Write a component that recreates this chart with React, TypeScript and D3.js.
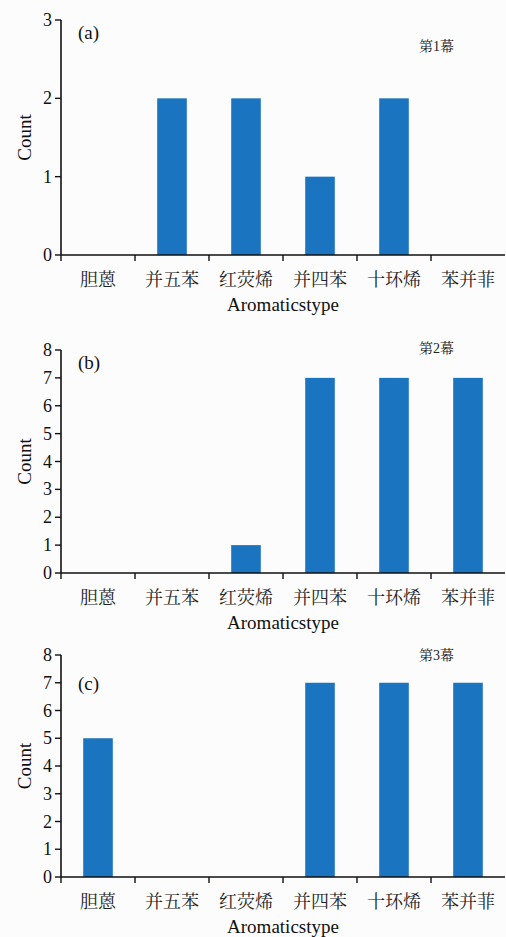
import React from 'react';
import * as d3 from 'd3';

// aromatic types on the x axis
const categories = ['胆蒽', '并五苯', '红荧烯', '并四苯', '十环烯', '苯并菲'];

// counts per scene
const scene1 = [0, 2, 2, 1, 2, 0];
const scene2 = [0, 0, 1, 7, 7, 7];
const scene3 = [5, 0, 0, 7, 7, 7];

const ticksA = [0, 1, 2, 3];
const ticksBC = [0, 1, 2, 3, 4, 5, 6, 7, 8];

const panelLabels = ['(a)', '(b)', '(c)'];
const sceneLabels = ['第1幕', '第2幕', '第3幕'];

const W = 506;
const H = 937;
const left = 61;
const right = 505;
const serif = '"Liberation Serif", "Times New Roman", serif';
const cjk = '"Liberation Serif", "Noto Serif CJK SC", "Noto Sans CJK SC", serif';
const barColor = '#1b74bf';

type PanelProps = {
  values: number[];
  ticks: number[];
  bottom: number;
  top: number;
  label: string;
  scene: string;
  labelY: number;
  sceneY: number;
};

function Panel({ values, ticks, bottom, top, label, scene, labelY, sceneY }: PanelProps) {
  const x = d3.scaleBand<string>()
    .domain(categories)
    .range([left, right])
    .paddingInner(0.6)
    .paddingOuter(0.3);
  const y = d3.scaleLinear()
    .domain([0, d3.max(ticks) as number])
    .range([bottom, top]);
  const step = x.step();

  return (
    <g>
      {/* bars */}
      {categories.map((c, i) => values[i] > 0 && (
        <rect key={c} x={x(c)} y={y(values[i])} width={x.bandwidth()}
          height={bottom - y(values[i])} fill={barColor} />
      ))}

      {/* y axis */}
      <line x1={left} x2={left} y1={y(d3.max(ticks) as number)} y2={bottom}
        stroke="#111" strokeWidth={1.6} />
      {ticks.map(t => (
        <g key={t}>
          <line x1={left - 6} x2={left} y1={y(t)} y2={y(t)} stroke="#111" strokeWidth={1.4} />
          <text x={left - 9} y={y(t)} dy="0.34em" textAnchor="end"
            fontFamily={serif} fontSize={18} fill="#111">{t}</text>
        </g>
      ))}

      {/* x axis */}
      <line x1={left} x2={right} y1={bottom} y2={bottom} stroke="#111" strokeWidth={1.6} />
      {categories.map((c, i) => (
        <g key={c}>
          <line x1={left + step * i} x2={left + step * i} y1={bottom} y2={bottom + 6}
            stroke="#111" strokeWidth={1.4} />
          <text x={(x(c) as number) + x.bandwidth() / 2} y={bottom + 31} textAnchor="middle"
            fontFamily={cjk} fontSize={18} fill="#222">{c}</text>
        </g>
      ))}
      <text x={(left + right) / 2 - 0} y={bottom + 56} textAnchor="middle"
        fontFamily={serif} fontSize={19} fill="#111">Aromaticstype</text>

      {/* y title */}
      <text transform={`translate(31,${(top + bottom) / 2}) rotate(-90)`} textAnchor="middle"
        fontFamily={serif} fontSize={19} fill="#111">Count</text>

      <text x={78} y={labelY} fontFamily={serif} fontSize={19} fill="#111">{label}</text>
      <text x={419} y={sceneY} fontFamily={cjk} fontSize={14} fill="#222">{scene}</text>
    </g>
  );
}

export default function App() {
  return (
    <svg width={W} height={H} style={{ position: 'absolute', left: 0, top: 0 }}>
      <rect width={W} height={H} fill="#fcfcfc" />
      <Panel values={scene1} ticks={ticksA} bottom={255} top={20}
        label={panelLabels[0]} scene={sceneLabels[0]} labelY={39} sceneY={51} />
      <Panel values={scene2} ticks={ticksBC} bottom={573} top={350}
        label={panelLabels[1]} scene={sceneLabels[1]} labelY={369} sceneY={353} />
      <Panel values={scene3} ticks={ticksBC} bottom={877} top={655}
        label={panelLabels[2]} scene={sceneLabels[2]} labelY={690} sceneY={660} />
    </svg>
  );
}
